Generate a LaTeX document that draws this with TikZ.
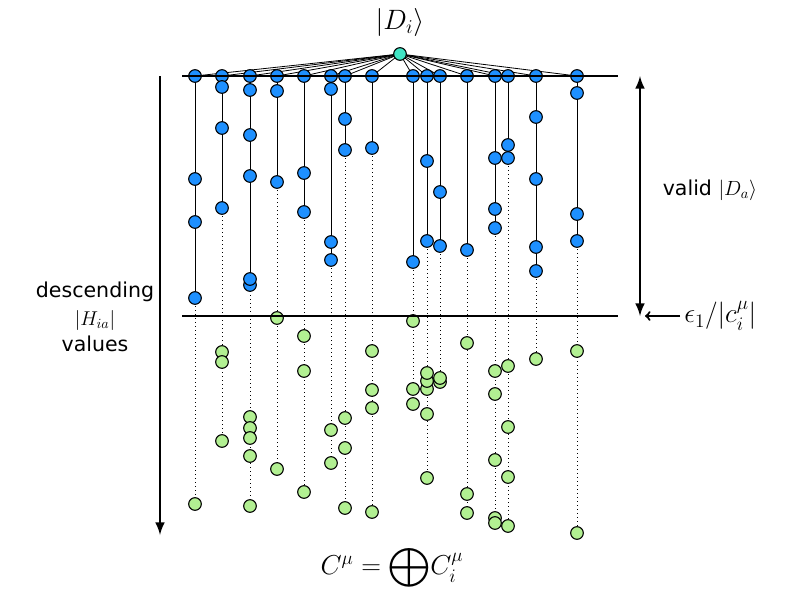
\RequirePackage{fix-cm}
\documentclass[tikz,border=0pt]{standalone}
\usepackage{amsmath}
\usepackage{fontspec}
\setmainfont{DejaVu Sans}
\usetikzlibrary{backgrounds}
\definecolor{dotblue}{RGB}{30,144,255}
\definecolor{dotgreen}{RGB}{178,240,146}
\definecolor{dotteal}{RGB}{64,228,196}
\begin{document}
\begin{tikzpicture}[x=0.75pt,y=-0.75pt,font=\fontsize{15.4}{19}\selectfont,
  bluedot/.style={circle,draw=black,fill=dotblue,line width=0.8pt,inner sep=0pt,minimum size=9.5pt},
  greendot/.style={circle,draw=black,fill=dotgreen,line width=0.8pt,inner sep=0pt,minimum size=9.5pt},
  topdot/.style={circle,draw=black,fill=dotteal,line width=0.8pt,inner sep=0pt,minimum size=9.5pt},
  stem/.style={line width=0.75pt},
  tail/.style={line width=0.75pt,dash pattern=on 0.75pt off 2.25pt},
  fan/.style={line width=0.6pt},
  level/.style={line width=1.9pt},
  bigarrow/.style={line width=2.2pt}]
\useasboundingbox (0,0) rectangle (800,600);
\node[topdot] (Di) at (400,54) {};
\node[font=\fontsize{21}{25}\selectfont] (Dilab) at (400,22) {$|D_i\rangle$};
% columns: x / blue values / green values
\foreach \x/\blues/\greens [count=\c] in {
  195/{76,179,222,298}/{504},
  222/{76,87,128,208}/{352,362,441},
  250/{76,90,135,176,285,279}/{417,428,438,456,506},
  277/{76,91,182}/{318,469},
  304/{76,173,212}/{336,371,492},
  331/{76,89,242,260}/{430,463},
  345/{76,119,150}/{418,448,508},
  372/{76,148}/{351,390,408,512},
  413/{76,262}/{321,389,404},
  427/{76,161,241}/{389,381,373,414,478},
  440/{76,192,246}/{382,378},
  467/{76,250}/{343,494,513},
  495/{76,158,209,228}/{371,394,460,518,523},
  508/{76,145,158}/{366,427,477,526},
  536/{76,117,179,247,271}/{359},
  577/{76,93,214,241}/{351,533}}{
  \foreach \y [count=\k] in \blues {\node[bluedot] (b\c-\k) at (\x,\y) {}; \xdef\nb{\k}}
  \foreach \y [count=\k] in \greens {\node[greendot] (g\c-\k) at (\x,\y) {}; \xdef\ng{\k}}
  \begin{scope}[on background layer]
    \draw[stem] (b\c-1.center) -- (b\c-\nb.center);
    \draw[tail] (b\c-\nb.center) -- (g\c-\ng.center);
    \draw[fan] (Di.center) -- (b\c-1.center);
  \end{scope}
}
% levels
\coordinate (topL) at (182,76);
\coordinate (topR) at (618,76);
\coordinate (cutL) at (182,316);
\coordinate (cutR) at (618,316);
\draw[level] (topL) -- (topR);
\draw[level] (cutL) -- (cutR);
% arrows and labels
\coordinate (descA) at (160,76);
\coordinate (descB) at (160,535);
\draw[bigarrow,-latex] (descA) -- (descB);
\coordinate (validA) at (640,76);
\coordinate (validB) at (640,316);
\draw[bigarrow,latex-latex] (validA) -- (validB);
\node[align=center,font=\fontsize{15.4}{19.5}\selectfont] (desc) at (95,317) {descending\\[1pt]{\fontsize{15}{18}\selectfont$|H_{ia}|$}\\[0pt]values};
\node (valid) at (710,190) {valid $|D_a\rangle$};
\node[anchor=west,inner sep=0pt,font=\fontsize{20.5}{24}\selectfont] (eps) at (684,316) {$\epsilon_1/|c_i^\mu|$};
\coordinate (epstip) at (645,316);
\draw[line width=1.6pt,-to] ([xshift=-3pt]eps.west) -- (epstip);
\node[font=\fontsize{20.5}{24}\selectfont] (sum) at (392,568) {$C^\mu=\displaystyle\bigoplus\!C_i^\mu$};
\end{tikzpicture}
\end{document}
